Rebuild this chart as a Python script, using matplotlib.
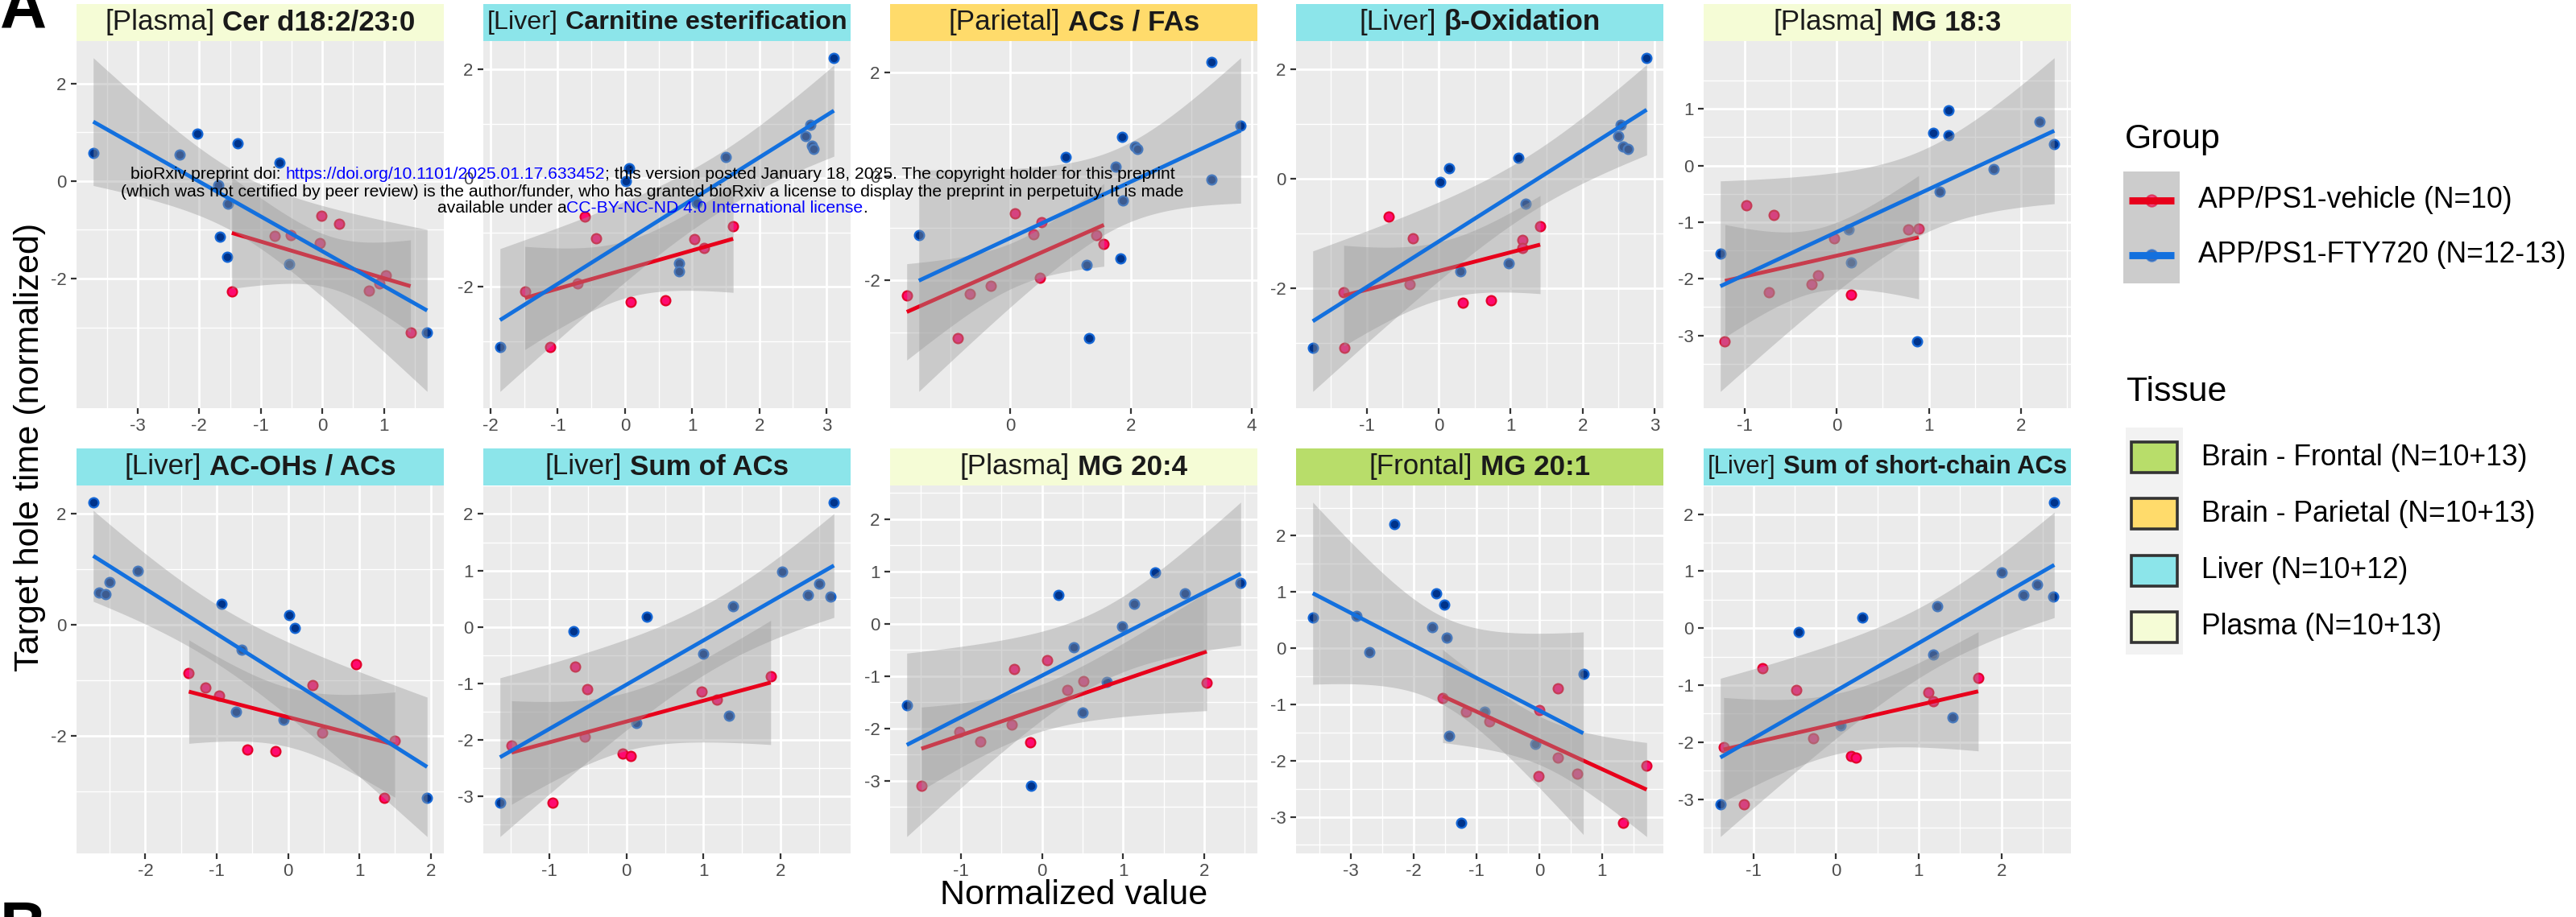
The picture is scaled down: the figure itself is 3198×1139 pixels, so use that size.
import numpy as np
import matplotlib
matplotlib.use("Agg")
import matplotlib.pyplot as plt
from matplotlib.patches import Rectangle

plt.rcParams['font.family'] = ['Liberation Sans', 'DejaVu Sans']
plt.rcParams['axes.unicode_minus'] = False

W, H, DPI = 3198, 1139, 200

# ---------------- data ----------------
panel_tissue = ['Plasma', 'Liver', 'Parietal', 'Liver', 'Plasma',
                'Liver', 'Liver', 'Plasma', 'Frontal', 'Liver']
panel_feature = ['Cer d18:2/23:0', 'Carnitine esterification', 'ACs / FAs', 'β-Oxidation', 'MG 18:3',
                 'AC-OHs / ACs', 'Sum of ACs', 'MG 20:4', 'MG 20:1', 'Sum of short-chain ACs']

p1_veh_x = [-0.01, 0.27, -0.78, -0.51, -0.04, -1.47, 1.03, 0.92, 0.76, 1.43]
p1_veh_y = [-0.71, -0.88, -1.13, -1.11, -1.28, -2.27, -1.94, -2.09, -2.25, -3.10]
p1_fty_x = [-3.72, -2.32, -2.03, -1.38, -0.69, -1.69, -1.53, -1.66, -1.55, -0.54, 1.70]
p1_fty_y = [0.57, 0.54, 0.97, 0.77, 0.37, -0.08, -0.47, -1.14, -1.56, -1.70, -3.10]

p2_veh_x = [-0.60, -0.43, -1.49, -0.71, 0.09, 0.60, 1.03, 1.18, 1.61, -1.11]
p2_veh_y = [-0.71, -1.10, -2.09, -1.94, -2.28, -2.25, -1.12, -1.28, -0.88, -3.10]
p2_fty_x = [3.11, 2.76, 2.69, 2.78, 2.81, 1.50, 0.06, 0.01, 1.07, 0.80, 0.80, -1.86]
p2_fty_y = [2.21, 0.98, 0.77, 0.59, 0.54, 0.38, 0.18, -0.06, -0.46, -1.56, -1.71, -3.10]

p3_veh_x = [0.08, 0.51, 0.38, 1.43, 1.55, -0.33, -0.67, 0.49, -1.72, -0.88]
p3_veh_y = [-0.72, -0.88, -1.12, -1.14, -1.30, -2.11, -2.26, -1.95, -2.29, -3.11]
p3_fty_x = [3.34, 3.82, 1.85, 2.06, 2.11, 0.91, 1.75, 3.34, 1.86, -1.52, 1.82, 1.27, 1.30]
p3_fty_y = [2.20, 0.97, 0.76, 0.57, 0.53, 0.37, 0.18, -0.07, -0.47, -1.14, -1.58, -1.71, -3.11]

p4_veh_x = [-0.69, -0.36, -1.32, -0.40, 0.33, 0.73, 1.16, 1.16, 1.41, -1.31]
p4_veh_y = [-0.70, -1.09, -2.08, -1.93, -2.27, -2.23, -1.12, -1.27, -0.87, -3.09]
p4_fty_x = [2.89, 2.53, 2.49, 2.56, 2.63, 1.11, 0.15, 0.02, 1.21, 0.97, 0.30, -1.75]
p4_fty_y = [2.21, 0.98, 0.78, 0.58, 0.54, 0.38, 0.19, -0.06, -0.46, -1.55, -1.70, -3.09]

p5_veh_x = [-0.98, -0.68, 0.78, 0.89, -0.03, -0.20, -0.27, -0.73, 0.16, -1.21]
p5_veh_y = [-0.71, -0.88, -1.13, -1.11, -1.29, -1.94, -2.09, -2.24, -2.28, -3.10]
p5_fty_x = [1.21, 1.05, 1.21, 2.20, 2.36, 1.70, 1.12, 0.13, 0.16, -1.26, 0.87]
p5_fty_y = [0.97, 0.57, 0.54, 0.78, 0.38, -0.07, -0.46, -1.13, -1.71, -1.56, -3.10]

p6_veh_x = [-1.39, 0.95, -1.16, -0.97, 0.34, 0.48, 1.50, -0.57, -0.17, 1.35]
p6_veh_y = [-0.87, -0.71, -1.13, -1.28, -1.09, -1.94, -2.08, -2.24, -2.28, -3.11]
p6_fty_x = [-2.73, -2.65, -2.56, -2.50, -2.11, -0.93, 0.02, 0.10, -0.65, -0.73, -0.06, 1.95]
p6_fty_y = [2.21, 0.58, 0.55, 0.77, 0.97, 0.38, 0.18, -0.06, -0.45, -1.56, -1.71, -3.11]

p7_veh_x = [-0.67, -0.51, 0.97, 1.17, 1.87, -0.54, -1.49, -0.05, 0.05, -0.96]
p7_veh_y = [-0.71, -1.11, -1.14, -1.29, -0.88, -1.95, -2.10, -2.25, -2.29, -3.11]
p7_fty_x = [2.69, 2.02, 2.50, 2.35, 2.65, 1.38, 0.26, -0.69, 1.00, 1.33, 0.13, -1.64]
p7_fty_y = [2.21, 0.98, 0.77, 0.57, 0.54, 0.37, 0.18, -0.07, -0.47, -1.57, -1.71, -3.11]

p8_veh_x = [-0.35, 0.06, 0.51, 0.31, 2.03, -0.38, -1.02, -0.76, -0.15, -1.49]
p8_veh_y = [-0.86, -0.70, -1.09, -1.27, -1.12, -1.93, -2.07, -2.24, -2.27, -3.09]
p8_fty_x = [1.39, 0.20, 1.14, 1.76, 2.45, 0.99, 0.39, 0.80, -1.67, 0.50, -0.14]
p8_fty_y = [0.98, 0.55, 0.39, 0.59, 0.79, -0.05, -0.45, -1.11, -1.55, -1.69, -3.10]

p9_veh_x = [0.30, -1.54, -1.17, -0.79, 0.00, 0.30, 0.60, -0.01, 1.71, 1.33]
p9_veh_y = [-0.72, -0.88, -1.13, -1.30, -1.10, -1.94, -2.24, -2.28, -2.09, -3.10]
p9_fty_x = [-2.31, -1.64, -1.51, -3.61, -2.91, -1.71, -1.47, -2.71, 0.70, -0.87, -1.44, -0.07, -1.25]
p9_fty_y = [2.21, 0.97, 0.77, 0.54, 0.58, 0.37, 0.19, -0.07, -0.46, -1.13, -1.56, -1.71, -3.10]

p10_veh_x = [-0.89, -0.48, 1.12, 1.18, 1.72, -0.28, -1.36, 0.18, 0.24, -1.11]
p10_veh_y = [-0.70, -1.09, -1.12, -1.28, -0.87, -1.93, -2.08, -2.24, -2.27, -3.09]
p10_fty_x = [2.64, 2.00, 2.43, 2.27, 2.63, 1.22, 0.32, -0.45, 1.18, 1.41, 0.05, -1.40]
p10_fty_y = [2.21, 0.98, 0.77, 0.58, 0.55, 0.38, 0.19, -0.06, -0.46, -1.56, -1.70, -3.09]

veh_x = [p1_veh_x, p2_veh_x, p3_veh_x, p4_veh_x, p5_veh_x, p6_veh_x, p7_veh_x, p8_veh_x, p9_veh_x, p10_veh_x]
veh_y = [p1_veh_y, p2_veh_y, p3_veh_y, p4_veh_y, p5_veh_y, p6_veh_y, p7_veh_y, p8_veh_y, p9_veh_y, p10_veh_y]
fty_x = [p1_fty_x, p2_fty_x, p3_fty_x, p4_fty_x, p5_fty_x, p6_fty_x, p7_fty_x, p8_fty_x, p9_fty_x, p10_fty_x]
fty_y = [p1_fty_y, p2_fty_y, p3_fty_y, p4_fty_y, p5_fty_y, p6_fty_y, p7_fty_y, p8_fty_y, p9_fty_y, p10_fty_y]

x_breaks = [[-3, -2, -1, 0, 1], [-2, -1, 0, 1, 2, 3], [0, 2, 4], [-1, 0, 1, 2, 3], [-1, 0, 1, 2],
            [-2, -1, 0, 1, 2], [-1, 0, 1, 2], [-1, 0, 1, 2], [-3, -2, -1, 0, 1], [-1, 0, 1, 2]]
y_breaks = [[-2, 0, 2], [-2, 0, 2], [-2, 0, 2], [-2, 0, 2], [-3, -2, -1, 0, 1],
            [-2, 0, 2], [-3, -2, -1, 0, 1, 2], [-3, -2, -1, 0, 1, 2], [-3, -2, -1, 0, 1, 2], [-3, -2, -1, 0, 1, 2]]

group_labels = ['APP/PS1-vehicle (N=10)', 'APP/PS1-FTY720 (N=12-13)']
tissue_labels = ['Brain - Frontal (N=10+13)', 'Brain - Parietal (N=10+13)', 'Liver (N=10+12)', 'Plasma (N=10+13)']
tissue_keys = ['Frontal', 'Parietal', 'Liver', 'Plasma']

# ---------------- style ----------------
tissue_color = {'Frontal': '#B8DD6A', 'Parietal': '#FFDB6B', 'Liver': '#8CE5EA', 'Plasma': '#F5FCD6'}
RED_LINE, BLUE_LINE = '#E8001B', '#1370DE'
RED_FILL, RED_EDGE = '#FF0A70', '#E3002A'
BLUE_FILL, BLUE_EDGE = '#00338A', '#1567D6'
T975 = {7: 2.365, 8: 2.306, 9: 2.262, 10: 2.228, 11: 2.201, 12: 2.179, 13: 2.160}

panel_lefts = [95, 600, 1105, 1609, 2115]
PW = 456
strip_top = [5, 557]
panel_top = [51, 603]
panel_bot = [507, 1060]

fig = plt.figure(figsize=(W / DPI, H / DPI), dpi=DPI)
fig.patch.set_facecolor('white')
ov = fig.add_axes([0, 0, 1, 1], zorder=10)
ov.set_xlim(0, W)
ov.set_ylim(H, 0)
ov.axis('off')
R = fig.canvas.get_renderer()


def space_w(size, weight='normal'):
    t1 = ov.text(0, 0, 'a a', fontsize=size, fontweight=weight)
    t2 = ov.text(0, 0, 'aa', fontsize=size, fontweight=weight)
    w = t1.get_window_extent(R).width - t2.get_window_extent(R).width
    t1.remove(); t2.remove()
    return w


def rich(xc, y, pieces, size, va='center', max_w=None):
    def build(sz):
        sp = space_w(sz)
        objs, total = [], 0
        for s, color, weight in pieces:
            lead = len(s) - len(s.lstrip(' '))
            trail = len(s) - len(s.rstrip(' '))
            t = ov.text(0, y, s.strip(' '), fontsize=sz, color=color, fontweight=weight,
                        ha='left', va=va)
            w = t.get_window_extent(R).width
            objs.append((t, lead * sp, w, trail * sp))
            total += lead * sp + w + trail * sp
        return objs, total
    objs, total = build(size)
    if max_w is not None and total > max_w:
        for t, *_ in objs:
            t.remove()
        objs, total = build(size * max_w / total)
    x = xc - total / 2
    for t, l, w, tr in objs:
        x += l
        t.set_x(x)
        x += w + tr


def smooth(ax, x, y, color, z):
    x = np.asarray(x, float); y = np.asarray(y, float); n = len(x)
    b, a = np.polyfit(x, y, 1)
    xs = np.linspace(x.min(), x.max(), 80)
    yh = a + b * xs
    s = np.sqrt(np.sum((y - (a + b * x)) ** 2) / (n - 2))
    sxx = np.sum((x - x.mean()) ** 2)
    se = s * np.sqrt(1 / n + (xs - x.mean()) ** 2 / sxx)
    t = T975[n - 2]
    ax.fill_between(xs, yh - t * se, yh + t * se, color='#999999', alpha=0.4, lw=0, zorder=z)
    ax.plot(xs, yh, color=color, lw=1.75, zorder=z + 0.5, solid_capstyle='butt')


def minor_of(br, lo, hi):
    st = br[1] - br[0]
    c = np.arange(br[0] - st / 2, br[-1] + st, st)
    return [v for v in c if lo <= v <= hi]


for i in range(10):
    row, col = divmod(i, 5)
    x0 = panel_lefts[col]
    y0, y1 = panel_top[row], panel_bot[row]
    ax = fig.add_axes([x0 / W, 1 - y1 / H, PW / W, (y1 - y0) / H])
    ax.set_facecolor('#EBEBEB')
    ax.set_axisbelow(True)
    for sp_ in ax.spines.values():
        sp_.set_visible(False)
    ax.scatter(veh_x[i], veh_y[i], s=18, c=RED_FILL, edgecolors=RED_EDGE, linewidths=0.8, zorder=2)
    ax.scatter(fty_x[i], fty_y[i], s=18, c=BLUE_FILL, edgecolors=BLUE_EDGE, linewidths=0.8, zorder=2)
    smooth(ax, veh_x[i], veh_y[i], RED_LINE, 3)
    smooth(ax, fty_x[i], fty_y[i], BLUE_LINE, 5)
    ax.margins(0.05)
    xl = ax.get_xlim(); yl = ax.get_ylim()
    ax.set_xticks([t for t in x_breaks[i] if xl[0] <= t <= xl[1]])
    ax.set_yticks([t for t in y_breaks[i] if yl[0] <= t <= yl[1]])
    ax.set_xticks(minor_of(x_breaks[i], *xl), minor=True)
    ax.set_yticks(minor_of(y_breaks[i], *yl), minor=True)
    ax.set_xlim(xl); ax.set_ylim(yl)
    ax.grid(which='major', color='white', lw=1.0)
    ax.grid(which='minor', color='white', lw=0.5)
    ax.tick_params(which='minor', length=0)
    ax.tick_params(which='major', length=2.5, width=0.8, color='#333333',
                   labelsize=8.0, labelcolor='#4D4D4D', pad=2)
    # strip
    st, sb = strip_top[row], panel_top[row]
    ov.add_patch(Rectangle((x0, st), PW, sb - st, facecolor=tissue_color[panel_tissue[i]],
                           edgecolor='none', zorder=1))
    rich(x0 + PW / 2, (st + sb) / 2,
         [('[' + panel_tissue[i] + '] ', '#1A1A1A', 'normal'),
          (panel_feature[i], '#1A1A1A', 'bold')], 12.6, max_w=446)

# axis titles and panel letters
ov.text(37, 555, 'Target hole time (normalized)', rotation=90, fontsize=15.5,
        ha='center', va='center', color='black')
ov.text(1333, 1112, 'Normalized value', fontsize=15.5, ha='center', va='center', color='black')
ov.text(0, 33, 'A', fontsize=29, fontweight='bold', ha='left', va='baseline')
ov.text(0, 1118, 'B', fontsize=29, fontweight='bold', ha='left', va='top')

# legend: Group
ov.text(2638, 173, 'Group', fontsize=15.4, ha='left', va='center')
ov.add_patch(Rectangle((2636, 213), 70, 139, facecolor='#CCCCCC', edgecolor='none'))
for yy, lc, fc, ec, lab in [(249, RED_LINE, RED_FILL, RED_EDGE, group_labels[0]),
                            (317, BLUE_LINE, BLUE_FILL, BLUE_EDGE, group_labels[1])]:
    ov.scatter([2671], [yy], s=26, c=fc, edgecolors=ec, linewidths=0.8, zorder=11, alpha=0.6)
    ov.plot([2643, 2699], [yy, yy], color=lc, lw=3.2, solid_capstyle='butt', zorder=12)
    ov.text(2729, yy, lab, fontsize=12.8, ha='left', va='center')

# legend: Tissue
ov.text(2640, 487, 'Tissue', fontsize=15.4, ha='left', va='center')
ov.add_patch(Rectangle((2639, 531), 71, 282, facecolor='#F2F2F2', edgecolor='none'))
for yy, key, lab in zip([568, 638, 709, 779], tissue_keys, tissue_labels):
    ov.add_patch(Rectangle((2646, yy - 19), 57, 38, facecolor=tissue_color[key],
                           edgecolor='#333333', lw=1.3, zorder=11))
    ov.text(2733, yy, lab, fontsize=12.8, ha='left', va='center')

# bioRxiv watermark
wm2 = ('(which was not certified by peer review) is the author/funder, who has granted bioRxiv '
       'a license to display the preprint in perpetuity. It is made')
tt = ov.text(0, 0, wm2, fontsize=7)
wm_size = 7 * 1334 / tt.get_window_extent(R).width
tt.remove()
rich(810, 217, [('bioRxiv preprint doi: ', 'black', 'normal'),
                ('https://doi.org/10.1101/2025.01.17.633452', '#0000FF', 'normal'),
                ('; this version posted January 18, 2025. The copyright holder for this preprint',
                 'black', 'normal')], wm_size)
rich(810, 238, [(wm2, 'black', 'normal')], wm_size)
rich(810, 258, [('available under a', 'black', 'normal'),
                ('CC-BY-NC-ND 4.0 International license', '#0000FF', 'normal'),
                ('.', 'black', 'normal')], wm_size)

fig.savefig('out.png', dpi=DPI)
